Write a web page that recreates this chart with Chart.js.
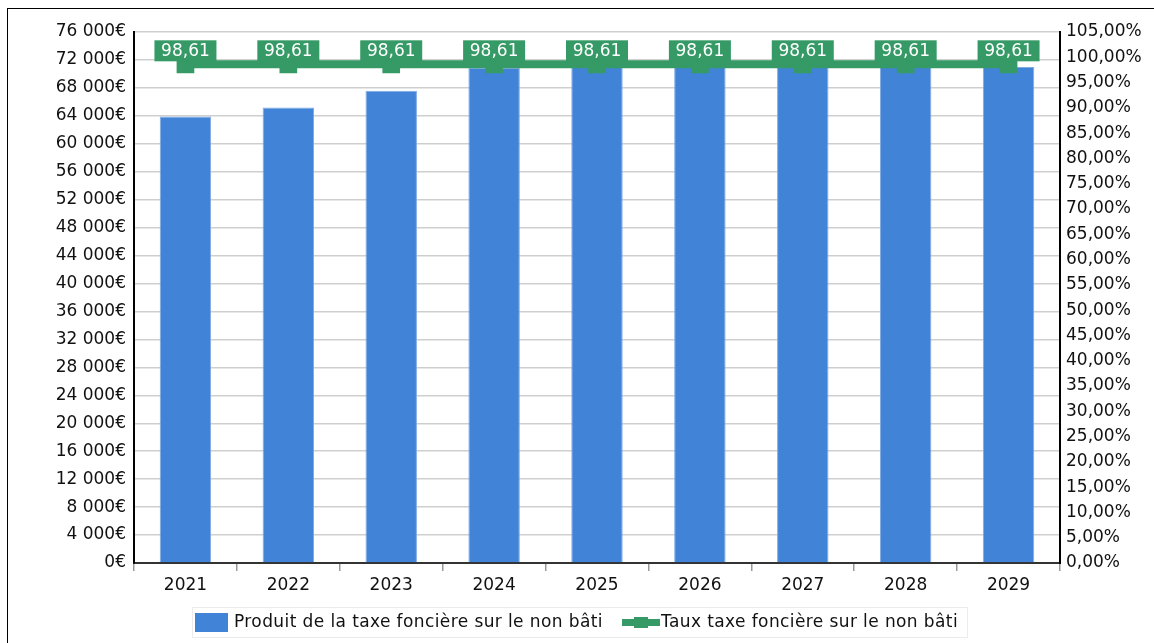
<!DOCTYPE html>
<html><head><meta charset="utf-8">
<script src="https://cdn.jsdelivr.net/npm/chart.js@4/dist/chart.umd.min.js"></script>
<style>
html,body{margin:0;padding:0;background:#fff;overflow:hidden}
#wrap{position:relative;width:1154px;height:643px}
#frame{position:absolute;left:7px;top:8px;width:1200px;height:700px;border:1.5px solid #000;pointer-events:none}
canvas{position:absolute;left:0;top:0}
</style></head>
<body><div id="wrap"><canvas id="c" width="1154" height="643"></canvas><div id="frame"></div></div>
<script>
const years = ['2021','2022','2023','2024','2025','2026','2027','2028','2029'];
const produit = [63900, 65200, 67600, 70900, 71000, 71000, 71000, 71000, 71000];
const taux = [98.61, 98.61, 98.61, 98.61, 98.61, 98.61, 98.61, 98.61, 98.61];
const produitLabel = 'Produit de la taxe foncière sur le non bâti';
const tauxLabel = 'Taux taxe foncière sur le non bâti';

const BLUE = '#4183d7';
const GREEN = '#359a66';
const FONT = '"DejaVu Sans", sans-serif';

const fmtEuro = v => String(v).replace(/\B(?=(\d{3})+(?!\d))/g, ' ') + '€';
const fmtPct = v => v.toFixed(2).replace('.', ',') + '%';

const labelsPlugin = {
  id: 'pointLabels',
  afterDatasetsDraw(chart) {
    const ctx = chart.ctx;
    const meta = chart.getDatasetMeta(1);
    ctx.save();
    ctx.font = '17px ' + FONT;
    ctx.textAlign = 'center';
    ctx.textBaseline = 'middle';
    meta.data.forEach((pt, i) => {
      const txt = taux[i].toFixed(2).replace('.', ',');
      ctx.fillStyle = GREEN;
      ctx.fillRect(pt.x - 31, pt.y - 24, 62, 21);
      ctx.fillStyle = '#fff';
      ctx.fillText(txt, pt.x, pt.y - 13);
    });
    ctx.restore();
  }
};

const legendPlugin = {
  id: 'customLegend',
  afterDraw(chart) {
    const ctx = chart.ctx;
    ctx.save();
    ctx.strokeStyle = '#ececec';
    ctx.lineWidth = 1;
    ctx.strokeRect(192.5, 607.5, 775, 30);
    ctx.fillStyle = BLUE;
    ctx.fillRect(195, 613, 33, 19);
    ctx.font = '17px ' + FONT;
    if ('letterSpacing' in ctx) ctx.letterSpacing = '0.4px';
    ctx.textBaseline = 'middle';
    ctx.fillStyle = '#111';
    ctx.fillText(produitLabel, 234, 623);
    ctx.fillStyle = GREEN;
    ctx.fillRect(622, 619, 38, 7);
    ctx.fillRect(634, 617, 14, 11);
    ctx.fillStyle = '#111';
    ctx.fillText(tauxLabel, 661, 623);
    ctx.restore();
  }
};

new Chart(document.getElementById('c'), {
  data: {
    labels: years,
    datasets: [
      {
        type: 'bar', label: produitLabel, data: produit, yAxisID: 'y',
        backgroundColor: BLUE, borderColor: '#7fa9e3', borderWidth: {left:1,right:1,top:1,bottom:0},
        barPercentage: 0.5, categoryPercentage: 1.0, order: 2
      },
      {
        type: 'line', label: tauxLabel, data: taux, yAxisID: 'y1',
        borderColor: GREEN, backgroundColor: GREEN, borderWidth: 8,
        pointStyle: 'rect', pointRadius: 12.5, pointBorderWidth: 0, order: 1
      }
    ]
  },
  options: {
    responsive: false, animation: false,
    layout: { padding: { top: 32, bottom: 0, left: 0, right: 0 } },
    plugins: { legend: { display: false }, tooltip: { enabled: false } },
    scales: {
      x: {
        offset: true,
        grid: { display: true, offset: true, drawOnChartArea: false, drawTicks: true, tickLength: 8, color: '#999', lineWidth: 1.5 },
        border: { display: true, color: '#333', width: 2 },
        ticks: { font: { family: FONT, size: 17 }, color: '#111', padding: 4, maxRotation: 0 },
        afterFit(s) { s.height = 80; }
      },
      y: {
        position: 'left', min: 0, max: 76000,
        grid: { color: '#cfcfcf', lineWidth: 1.5, drawTicks: false },
        border: { display: true, color: '#000', width: 2 },
        ticks: { stepSize: 4000, font: { family: FONT, size: 17 }, color: '#111', padding: 8, callback: v => fmtEuro(v) },
        afterFit(s) { s.width = 134; }
      },
      y1: {
        position: 'right', min: 0, max: 105,
        grid: { display: false, drawTicks: false },
        border: { display: true, color: '#000', width: 2 },
        ticks: { stepSize: 5, font: { family: FONT, size: 17 }, color: '#111', padding: 6, callback: v => fmtPct(v) },
        afterFit(s) { s.width = 94; }
      }
    }
  },
  plugins: [labelsPlugin, legendPlugin]
});
</script>
</body></html>
